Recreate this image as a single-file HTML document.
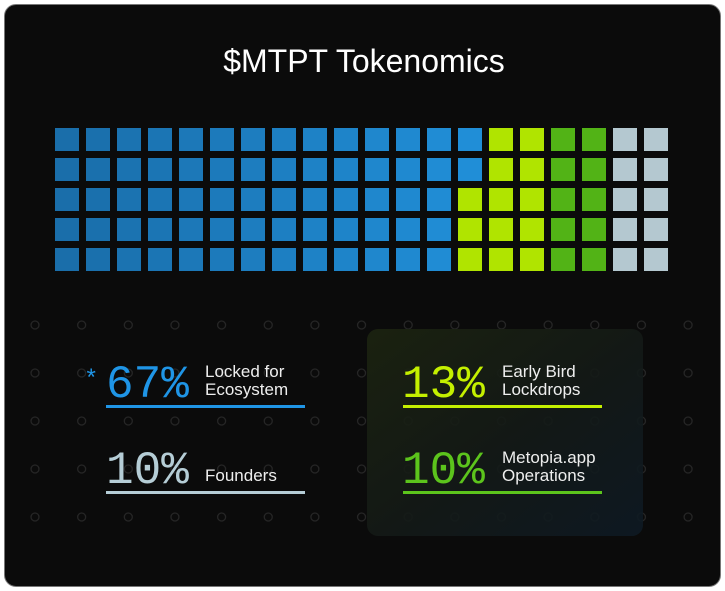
<!DOCTYPE html>
<html><head><style>
body{margin:0;background:#fff;width:725px;height:591px;position:relative;overflow:hidden;font-family:"Liberation Sans",sans-serif}
.card{position:absolute;left:4px;top:4px;width:715px;height:581px;background:#0b0b0b;border:1px solid #777;border-radius:12px}
.t{position:absolute;color:#fff}
.num{position:absolute;font-family:"Liberation Mono",monospace;font-size:46px;line-height:46px}
.lab{position:absolute;color:#eee;font-size:17px;line-height:18px}
.ul{position:absolute;height:3px;width:199px}
</style></head><body>
<div class="card"></div>
<svg style="position:absolute;left:0;top:0" width="725" height="591">
<g id="dots" fill="none" stroke="#262626" stroke-width="1.3"></g>
<defs><linearGradient id="pg" x1="0" y1="0" x2="1" y2="1"><stop offset="0" stop-color="#1c2410"/><stop offset="0.5" stop-color="#141a16"/><stop offset="1" stop-color="#0e1a24"/></linearGradient></defs>
<rect x="367" y="329" width="276" height="207" rx="11" fill="url(#pg)" opacity="0.9"/>
<g id="sq"></g>
</svg>
<div class="t" style="left:0;width:728px;text-align:center;top:43px;font-size:32px">$MTPT Tokenomics</div>
<div class="num" style="left:84px;top:358px;font-size:24px;color:#1f95e6">*</div>
<div class="num" style="left:106px;top:362px;color:#1f95e6">67%</div>
<div class="lab" style="left:205px;top:363px">Locked for<br>Ecosystem</div>
<div class="ul" style="left:106px;top:405px;background:#1f95e6"></div>
<div class="num" style="left:106px;top:448px;color:#b5cdd6">10%</div>
<div class="lab" style="left:205px;top:467px">Founders</div>
<div class="ul" style="left:106px;top:491px;background:#b5cdd6"></div>
<div class="num" style="left:402px;top:362px;color:#c4f000">13%</div>
<div class="lab" style="left:502px;top:363px">Early Bird<br>Lockdrops</div>
<div class="ul" style="left:403px;top:405px;background:#c4f000"></div>
<div class="num" style="left:402px;top:448px;color:#5cc41c">10%</div>
<div class="lab" style="left:502px;top:449px">Metopia.app<br>Operations</div>
<div class="ul" style="left:403px;top:491px;background:#5cc41c"></div>
<script>
var d=document.getElementById('dots'),s='';
for(var i=0;i<15;i++)for(var j=0;j<5;j++)s+='<circle cx="'+(35+i*46.65)+'" cy="'+(325+j*48)+'" r="4"/>';
d.innerHTML=s;
var q=document.getElementById('sq');s='';
for(var c=0;c<20;c++)for(var r=0;r<5;r++){
var col;
if(c<13||(c==13&&r<2)){var t=c/13;col='rgb('+Math.round(26+t*6)+','+Math.round(110+t*32)+','+Math.round(170+t*45)+')';}
else if(c<16)col='#b0e400';else if(c<18)col='#52b316';else col='#b4c8d0';
s+='<rect x="'+(55+c*31)+'" y="'+(128+r*30)+'" width="24" height="23" fill="'+col+'"/>';}
q.innerHTML=s;
</script>
</body></html>
